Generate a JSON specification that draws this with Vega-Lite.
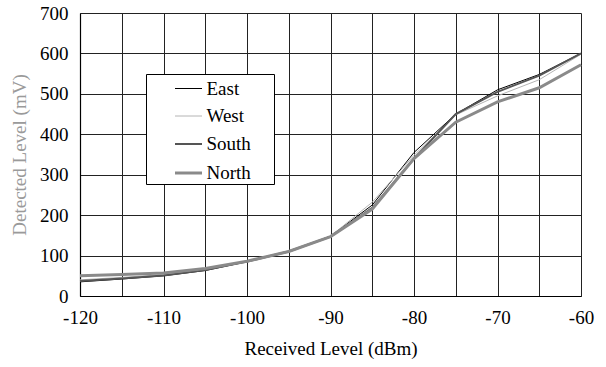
{
  "$schema": "https://vega.github.io/schema/vega-lite/v6.json",
  "width": 501,
  "height": 283,
  "autosize": {"type": "none"},
  "padding": {"left": 80, "top": 13, "right": 25, "bottom": 71},
  "background": "white",
  "config": {
    "font": "Liberation Serif",
    "view": {"stroke": null},
    "axis": {
      "labelFont": "Liberation Serif",
      "titleFont": "Liberation Serif",
      "labelFontSize": 19,
      "titleFontSize": 19,
      "titleFontWeight": "normal",
      "labelColor": "#000",
      "titleColor": "#000",
      "gridColor": "#222",
      "gridOpacity": 1,
      "gridWidth": 1,
      "domainColor": "#000",
      "domainWidth": 1.2,
      "ticks": false,
      "labelFlush": false,
      "labelOverlap": false
    },
    "legend": {
      "labelFont": "Liberation Serif",
      "titleFont": "Liberation Serif"
    }
  },
  "data": {
    "values": [
      {"x": -120, "v": 35, "s": "East"}, {"x": -115, "v": 42, "s": "East"}, {"x": -110, "v": 50, "s": "East"}, {"x": -105, "v": 63, "s": "East"}, {"x": -100, "v": 85, "s": "East"}, {"x": -95, "v": 110, "s": "East"}, {"x": -90, "v": 148, "s": "East"}, {"x": -85, "v": 225, "s": "East"}, {"x": -80, "v": 355, "s": "East"}, {"x": -75, "v": 450, "s": "East"}, {"x": -70, "v": 510, "s": "East"}, {"x": -65, "v": 548, "s": "East"}, {"x": -60, "v": 600, "s": "East"},
      {"x": -120, "v": 40, "s": "West"}, {"x": -115, "v": 46, "s": "West"}, {"x": -110, "v": 53, "s": "West"}, {"x": -105, "v": 66, "s": "West"}, {"x": -100, "v": 86, "s": "West"}, {"x": -95, "v": 112, "s": "West"}, {"x": -90, "v": 148, "s": "West"}, {"x": -85, "v": 232, "s": "West"}, {"x": -80, "v": 348, "s": "West"}, {"x": -75, "v": 448, "s": "West"}, {"x": -70, "v": 495, "s": "West"}, {"x": -65, "v": 535, "s": "West"}, {"x": -60, "v": 598, "s": "West"},
      {"x": -120, "v": 37, "s": "South"}, {"x": -115, "v": 43, "s": "South"}, {"x": -110, "v": 51, "s": "South"}, {"x": -105, "v": 64, "s": "South"}, {"x": -100, "v": 85, "s": "South"}, {"x": -95, "v": 110, "s": "South"}, {"x": -90, "v": 147, "s": "South"}, {"x": -85, "v": 218, "s": "South"}, {"x": -80, "v": 340, "s": "South"}, {"x": -75, "v": 450, "s": "South"}, {"x": -70, "v": 505, "s": "South"}, {"x": -65, "v": 545, "s": "South"}, {"x": -60, "v": 600, "s": "South"},
      {"x": -120, "v": 50, "s": "North"}, {"x": -115, "v": 53, "s": "North"}, {"x": -110, "v": 57, "s": "North"}, {"x": -105, "v": 68, "s": "North"}, {"x": -100, "v": 86, "s": "North"}, {"x": -95, "v": 110, "s": "North"}, {"x": -90, "v": 147, "s": "North"}, {"x": -85, "v": 215, "s": "North"}, {"x": -80, "v": 340, "s": "North"}, {"x": -75, "v": 430, "s": "North"}, {"x": -70, "v": 480, "s": "North"}, {"x": -65, "v": 515, "s": "North"}, {"x": -60, "v": 572, "s": "North"}
    ]
  },
  "mark": {"type": "line", "strokeJoin": "miter"},
  "encoding": {
    "x": {
      "field": "x",
      "type": "quantitative",
      "scale": {"domain": [-120, -60], "nice": false, "zero": false},
      "axis": {
        "values": [-120, -115, -110, -105, -100, -95, -90, -85, -80, -75, -70, -65, -60],
        "labelExpr": "datum.value % 10 == 0 ? ('' + datum.value) : ''",
        "labelPadding": 12,
        "title": "Received Level (dBm)",
        "titlePadding": 12
      }
    },
    "y": {
      "field": "v",
      "type": "quantitative",
      "scale": {"domain": [0, 700], "nice": false},
      "axis": {
        "values": [0, 100, 200, 300, 400, 500, 600, 700],
        "labelPadding": 12,
        "title": "Detected Level (mV)",
        "titleColor": "#9a9a9a",
        "titleFontSize": 19,
        "titlePadding": 10
      }
    },
    "color": {
      "field": "s",
      "type": "nominal",
      "sort": ["East", "West", "South", "North"],
      "scale": {"domain": ["East", "West", "South", "North"], "range": ["#000000", "#b4b4b4", "#555555", "#8a8a8a"]},
      "legend": {
        "title": " ",
        "titleOrient": "right",
        "titlePadding": 23,
        "orient": "none",
        "legendX": 66,
        "legendY": 61,
        "fillColor": "white",
        "strokeColor": "#000",
        "padding": 0.5,
        "symbolType": "stroke",
        "symbolSize": 729,
        "symbolOffset": 27,
        "labelFontSize": 19,
        "labelColor": "#000",
        "labelOffset": 3,
        "rowPadding": 3.5
      }
    },
    "strokeWidth": {
      "field": "s",
      "type": "nominal",
      "sort": ["East", "West", "South", "North"],
      "scale": {"type": "ordinal", "domain": ["East", "West", "South", "North"], "range": [1, 1, 2, 3]},
      "legend": null
    },
    "order": {"field": "x", "type": "quantitative"}
  }
}
